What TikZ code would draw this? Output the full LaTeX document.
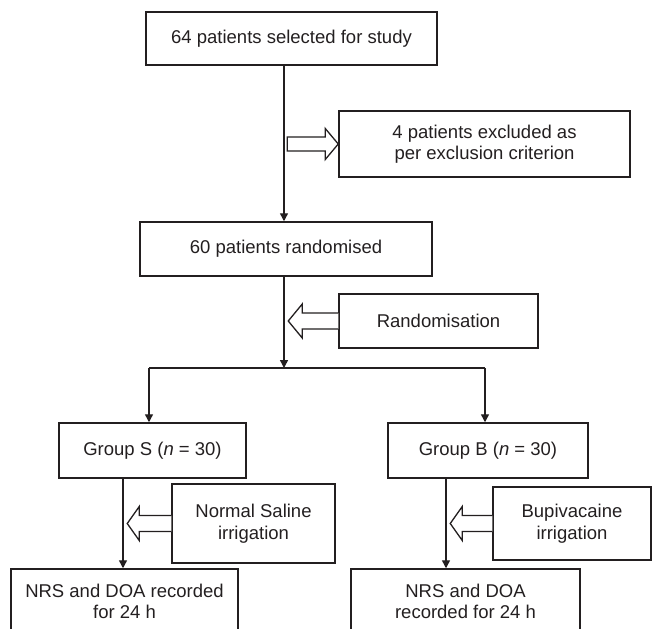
\documentclass[tikz,border=0pt]{standalone}
\usepackage{fontspec}
\setmainfont{Liberation Sans}
\usetikzlibrary{arrows.meta}
\definecolor{ink}{HTML}{231F20}

\tikzset{
  box/.style={draw=ink, line width=1.5pt, align=center, inner sep=0pt,
              font=\fontsize{18.5}{21.5}\selectfont, text=ink},
  link/.style={draw=ink, line width=1.4pt},
  hollow/.style={draw=ink, fill=white, line width=1.3pt, line join=miter},
}

\begin{document}
\begin{tikzpicture}[x=1pt,y=-1pt,>={Triangle[length=8pt,width=8pt]}]
        \useasboundingbox (0,0) rectangle (652,628);
        % boxes
        \node[box, minimum width=291pt, minimum height=53pt] (sel)  at (291.5,38.5) {64 patients selected for study};
        \node[box, minimum width=291pt, minimum height=66pt] (excl) at (484.5,144)  {4 patients excluded as\\per exclusion criterion};
        \node[box, minimum width=292pt, minimum height=54pt] (rand) at (286,249)    {60 patients randomised};
        \node[box, minimum width=199pt, minimum height=54pt] (randn) at (438.5,321) {Randomisation};
        \node[box, minimum width=187pt, minimum height=55pt] (grpS) at (152.5,450.5) {Group S (\textit{n} = 30)};
        \node[box, minimum width=200pt, minimum height=55pt] (grpB) at (488,450.5)   {Group B (\textit{n} = 30)};
        \node[box, minimum width=163pt, minimum height=79pt] (irrS) at (253.5,523.5) {Normal Saline\\irrigation};
        \node[box, minimum width=158pt, minimum height=73pt] (irrB) at (572,523.5)   {Bupivacaine\\irrigation};
        \node[box, minimum width=227pt, minimum height=65pt] (nrsS) at (124.5,601.5) {NRS and DOA recorded\\for 24 h};
        \node[box, minimum width=229pt, minimum height=65pt] (nrsB) at (465.5,601.5) {NRS and DOA\\recorded for 24 h};
        % spine and split
        \coordinate (spine) at (284,0);
        \coordinate (split) at (284,368);
        \coordinate (splitL) at (149,368);
        \coordinate (splitR) at (485,368);
        \coordinate (legS) at (123,0);
        \coordinate (legB) at (446,0);
        \draw[link,->] (spine |- sel.south) -- (spine |- rand.north);
        \draw[link,->] (spine |- rand.south) -- (split);
        \draw[link] (splitL) -- (splitR);
        \draw[link,->] (splitL) -- (splitL |- grpS.north);
        \draw[link,->] (splitR) -- (splitR |- grpB.north);
        \draw[link,->] (legS |- grpS.south) -- (legS |- nrsS.north);
        \draw[link,->] (legB |- grpB.south) -- (legB |- nrsB.north);
        % hollow arrows
        \draw[hollow, shift={(excl.west)}] (-51,-7) -- (-13,-7) -- (-13,-15.5)
              -- (0,0) -- (-13,15.5) -- (-13,7) -- (-51,7) -- cycle;
        \foreach \b/\l/\h in {randn/50/14, irrS/44/12, irrB/42/12}
          \draw[hollow, shift={(\b.west)}] (0,-8) -- (-\l+\h,-8) -- (-\l+\h,-17)
                -- (-\l,0) -- (-\l+\h,17) -- (-\l+\h,8) -- (0,8);
      \end{tikzpicture}
\end{document}
